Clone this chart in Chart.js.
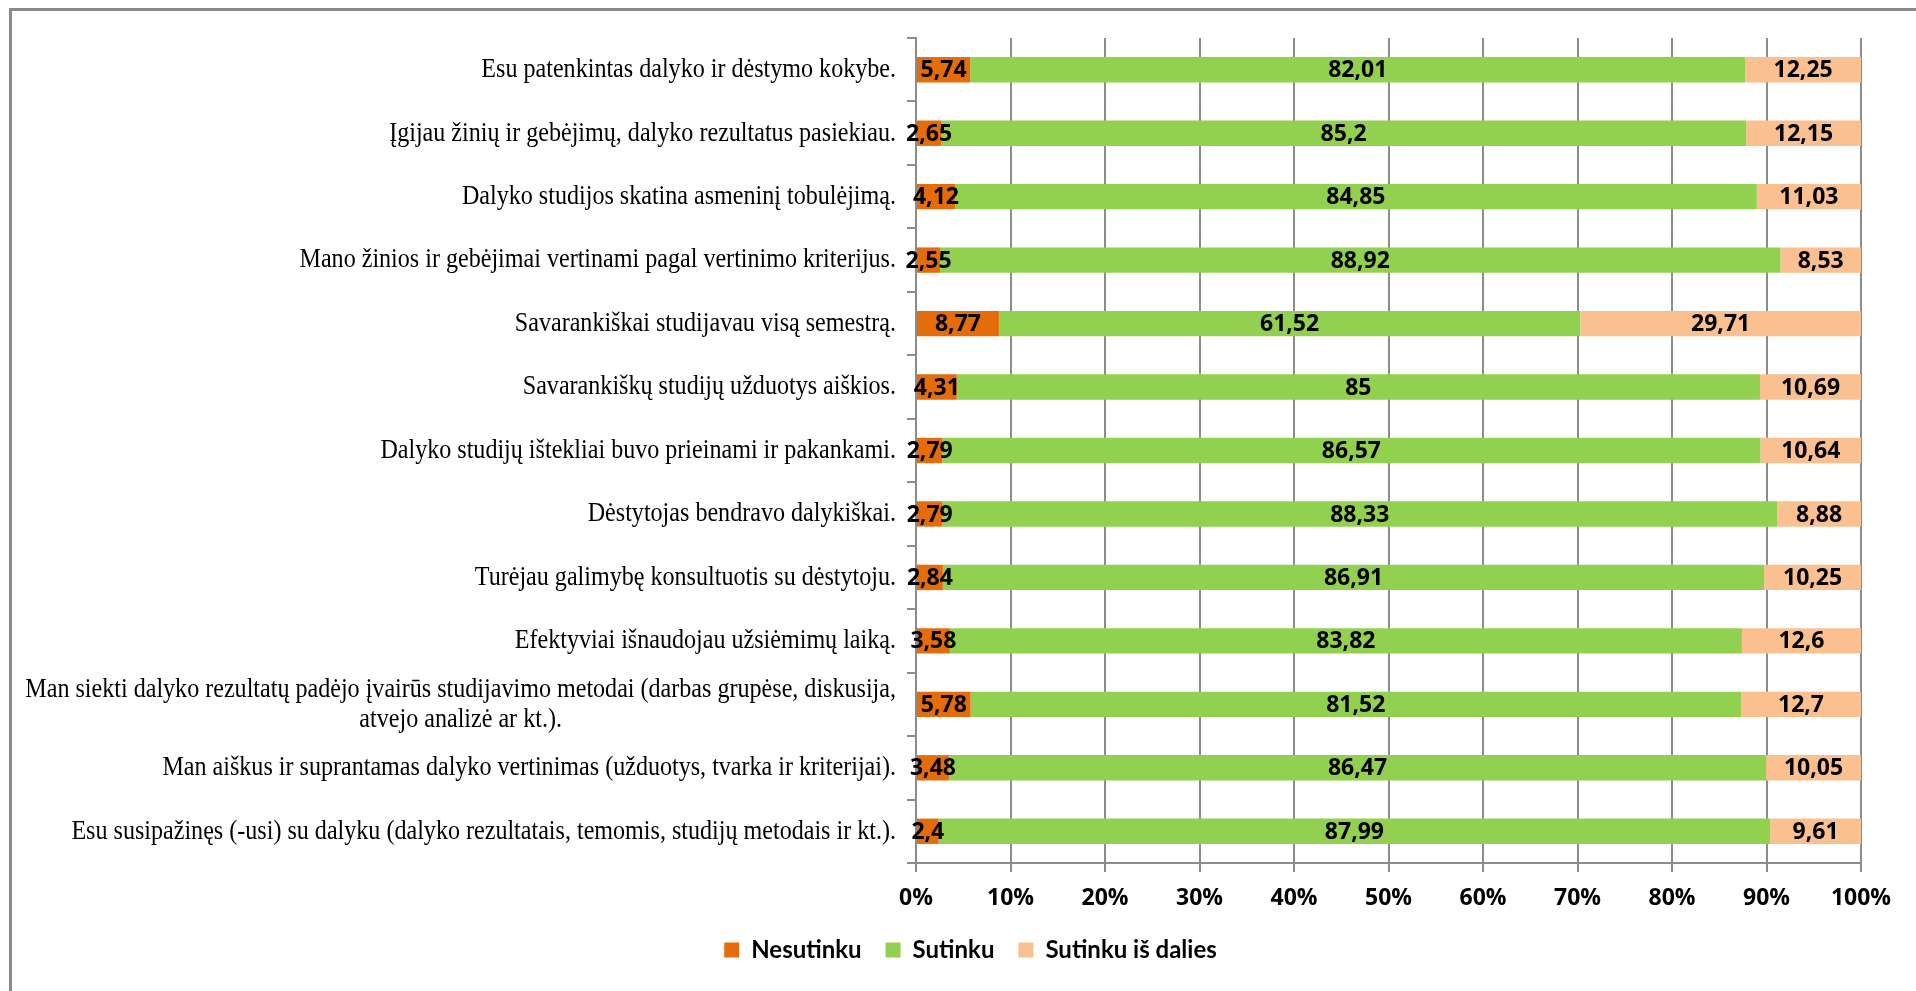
<!DOCTYPE html>
<html>
<head>
<meta charset="utf-8">
<script src="https://cdn.jsdelivr.net/npm/chart.js@4"></script>
<style>
  html, body { margin: 0; padding: 0; background: #fff; overflow: hidden; }
  #frame { position: absolute; left: 9px; top: 8px; width: 3000px; height: 3000px;
           border-left: 3px solid #8a8a8a; border-top: 3px solid #8a8a8a; pointer-events: none; }
  #chart { position: absolute; left: 0; top: 0; }
</style>
</head>
<body>
<div id="frame"></div>
<canvas id="chart" width="1916" height="991"></canvas>
<script>
// categories, top to bottom
const categories = [
  "Esu patenkintas dalyko ir dėstymo kokybe.",
  "Įgijau žinių ir gebėjimų, dalyko rezultatus pasiekiau.",
  "Dalyko studijos skatina asmeninį tobulėjimą.",
  "Mano žinios ir gebėjimai vertinami pagal vertinimo kriterijus.",
  "Savarankiškai studijavau visą semestrą.",
  "Savarankiškų studijų užduotys aiškios.",
  "Dalyko studijų ištekliai buvo prieinami ir pakankami.",
  "Dėstytojas bendravo dalykiškai.",
  "Turėjau galimybę konsultuotis su dėstytoju.",
  "Efektyviai išnaudojau užsiėmimų laiką.",
  ["Man siekti dalyko rezultatų padėjo įvairūs studijavimo metodai (darbas grupėse, diskusija,", "atvejo analizė ar kt.)."],
  "Man aiškus ir suprantamas dalyko vertinimas (užduotys, tvarka ir kriterijai).",
  "Esu susipažinęs (-usi) su dalyku (dalyko rezultatais, temomis, studijų metodais ir kt.)."
];

const nesutinku = [5.74, 2.65, 4.12, 2.55, 8.77, 4.31, 2.79, 2.79, 2.84, 3.58, 5.78, 3.48, 2.4];
const sutinku   = [82.01, 85.2, 84.85, 88.92, 61.52, 85, 86.57, 88.33, 86.91, 83.82, 81.52, 86.47, 87.99];
const isDalies  = [12.25, 12.15, 11.03, 8.53, 29.71, 10.69, 10.64, 8.88, 10.25, 12.6, 12.7, 10.05, 9.61];

const seriesNames = ["Nesutinku", "Sutinku", "Sutinku iš dalies"];
const seriesColors = ["#E46C0A", "#92D050", "#FAC090"];

const gridGray = "#8c8c8c";

// value labels in the middle of each bar segment, comma decimals
const valueLabels = {
  id: "valueLabels",
  afterDatasetsDraw(chart) {
    const ctx = chart.ctx;
    ctx.save();
    ctx.font = 'bold 23px "Open Sans"';
    ctx.fillStyle = "#000";
    ctx.textAlign = "center";
    ctx.textBaseline = "middle";
    chart.data.datasets.forEach((ds, di) => {
      chart.getDatasetMeta(di).data.forEach((bar, i) => {
        const txt = String(ds.data[i]).replace(".", ",");
        ctx.fillText(txt, (bar.x + bar.base) / 2, bar.y + 1);
      });
    });
    ctx.restore();
  }
};

// category labels, right aligned next to the axis; wrapped ones centred.
// the original text is a narrow serif, so it is squeezed a little
const categoryLabels = {
  id: "categoryLabels",
  afterDraw(chart) {
    const ctx = chart.ctx;
    const y = chart.scales.y;
    const xr = chart.chartArea.left - 20;
    const lh = 30;
    const sx = 0.86;
    ctx.save();
    ctx.font = '28px "Liberation Serif"';
    ctx.fillStyle = "#000";
    ctx.textBaseline = "middle";
    chart.data.labels.forEach((lab, i) => {
      const cy = y.getPixelForValue(i);
      const lines = Array.isArray(lab) ? lab : [lab];
      const w = Math.max(...lines.map(l => ctx.measureText(l).width));
      lines.forEach((l, k) => {
        const ly = cy + (k - (lines.length - 1) / 2) * lh;
        ctx.save();
        ctx.translate(xr, ly);
        ctx.scale(sx, 1);
        if (lines.length > 1) {
          ctx.textAlign = "center";
          ctx.fillText(l, -w / 2, 0);
        } else {
          ctx.textAlign = "right";
          ctx.fillText(l, 0, 0);
        }
        ctx.restore();
      });
    });
    ctx.restore();
  }
};

new Chart(document.getElementById("chart"), {
  type: "bar",
  data: {
    labels: categories,
    datasets: [
      { label: seriesNames[0], data: nesutinku, backgroundColor: seriesColors[0] },
      { label: seriesNames[1], data: sutinku, backgroundColor: seriesColors[1] },
      { label: seriesNames[2], data: isDalies, backgroundColor: seriesColors[2] }
    ]
  },
  options: {
    indexAxis: "y",
    responsive: false,
    animation: false,
    datasets: { bar: { barPercentage: 0.4, categoryPercentage: 1 } },
    layout: { padding: { left: 80, right: 55, top: 38, bottom: 19 } },
    scales: {
      x: {
        stacked: true,
        min: 0,
        max: 100,
        ticks: {
          stepSize: 10,
          callback: v => v + "%",
          font: { family: "Open Sans", size: 23, weight: "bold" },
          color: "#000",
          padding: 13
        },
        grid: { color: gridGray, lineWidth: 2, tickLength: 9 },
        border: { color: gridGray, width: 2 },
        afterFit(s) { s.height = 51; }
      },
      y: {
        stacked: true,
        ticks: { display: false },
        grid: { drawOnChartArea: false, color: gridGray, lineWidth: 2, tickLength: 9 },
        border: { color: gridGray, width: 2 },
        afterFit(s) { s.width = 836; }
      }
    },
    plugins: {
      legend: {
        position: "bottom",
        labels: {
          boxWidth: 15,
          boxHeight: 15,
          padding: 24,
          color: "#000",
          font: { family: "Lato", size: 24, weight: "bold" }
        }
      },
      tooltip: { enabled: false }
    }
  },
  plugins: [valueLabels, categoryLabels]
});
</script>
</body>
</html>
